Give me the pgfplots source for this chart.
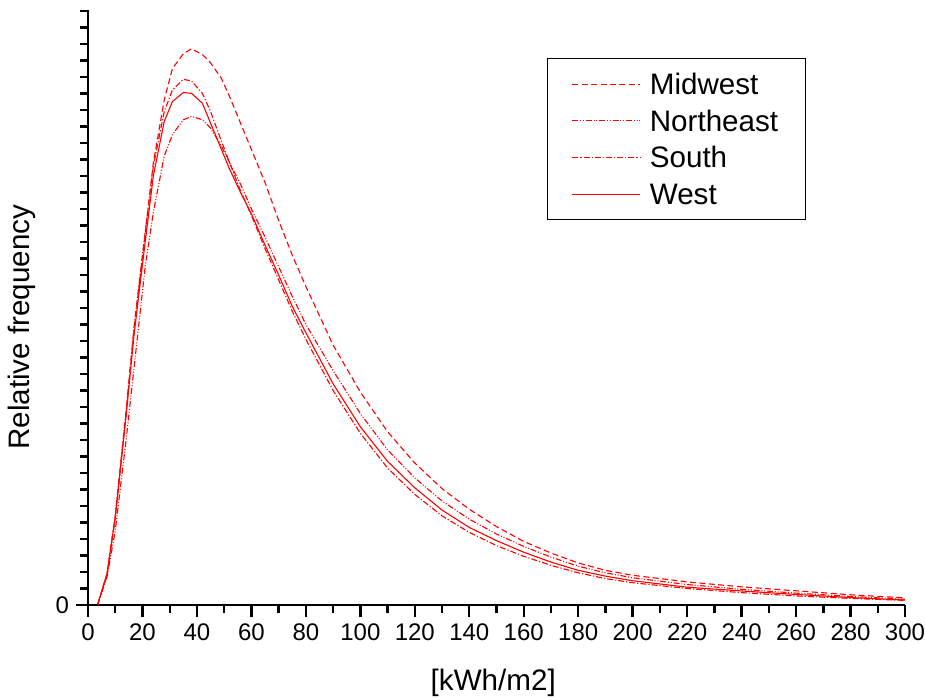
\documentclass[border=0pt]{standalone}
\usepackage{fontspec}
\setmainfont{Liberation Sans}
\usepackage{pgfplots}
\pgfplotsset{compat=1.18}

% x: kWh/m2, y: tick units on the unlabelled frequency axis
\pgfplotstableread{
x     mw     ne     so     we
3.5   0      0      0      0
7     1.9    1.7    1.9    1.9
10    5.3    4.5    5.4    5.3
14    11.6   10.0   11.8   11.5
17    16.8   14.5   17.0   16.5
21    22.5   20.5   22.6   22.0
24    26.8   23.8   26.6   26.0
28    30.6   27.2   29.9   29.3
31    32.5   28.5   31.2   30.5
35    33.4   29.4   31.85  31.05
38    33.7   29.6   31.75  31.0
42    33.35  29.4   31.0   30.4
45    32.85  28.9   29.9   29.2
49    31.9   27.8   28.1   27.6
52    30.8   26.8   26.8   26.4
56    29.2   25.5   25.1   25.0
60    27.6   24.0   23.6   23.7
65    25.6   22.3   21.6   21.8
70    23.3   20.5   19.7   20.0
75    21.2   18.7   17.8   18.1
80    19.3   17.0   16.1   16.5
90    15.75  14.2   13.0   13.4
100   12.9   11.6   10.4   10.8
110   10.5   9.4    8.3    8.7
120   8.6    7.7    6.7    7.1
130   7.05   6.3    5.4    5.75
140   5.8    5.2    4.4    4.7
150   4.75   4.3    3.6    3.9
160   3.85   3.55   2.95   3.2
170   3.15   2.9    2.4    2.6
180   2.55   2.35   1.95   2.1
190   2.1    1.95   1.6    1.75
200   1.8    1.65   1.35   1.47
220   1.4    1.24   1.0    1.08
240   1.1    0.95   0.75   0.85
260   0.86   0.72   0.55   0.64
280   0.62   0.52   0.4    0.45
300   0.43   0.35   0.28   0.3
}\regions

\begin{document}
\begin{tikzpicture}
\path[use as bounding box] (-44pt,-47.5pt) rectangle (418.5pt,302.5pt);
\begin{axis}[
  at={(0pt,0pt)}, anchor=origin,
  scale only axis, width=408.5pt, height=297.5pt,
  xmin=0, xmax=300, ymin=0, ymax=36.05,
  axis x line*=bottom, axis y line*=left,
  axis line style={line width=1.2pt},
  tick align=outside, tick style={line width=1.2pt, black},
  major tick length=6pt, minor tick length=3.8pt,
  xtick={0,20,...,300}, minor xtick={10,30,...,290},
  ytick={0}, minor ytick={1,...,36},
  /pgf/number format/assume math mode=true,
  tick label style={font=\fontsize{12}{14}\selectfont},
  xlabel={[kWh/m2]}, ylabel={Relative frequency},
  label style={font=\fontsize{14.8}{17}\selectfont},
  xlabel style={at={(axis description cs:0.496,-0.131)}, anchor=center},
  ylabel style={at={(axis description cs:-0.081,0.467)}, anchor=center, rotate=0},
  legend cell align=left,
  legend image code/.code={\path (0pt,0pt); \draw[#1] (3pt,0pt) -- (37pt,0pt);},
  legend style={at={(axis description cs:0.562,0.919)}, anchor=north west,
    draw=black, line width=0.6pt, inner xsep=9pt, inner ysep=3.6pt,
    font=\fontsize{14.8}{17}\selectfont,
    nodes={inner xsep=4.5pt, inner ysep=2.4pt, text height=12pt, text depth=1.5pt}},
  every axis plot/.append style={red, line width=0.55pt},
  clip=false,
]
\addplot[dash pattern=on 3pt off 1.7pt] table[x=x,y=mw] {\regions};
\addlegendentry{Midwest}
\addplot[dash pattern=on 3pt off 0.9pt on 0.5pt off 0.9pt on 0.5pt off 0.9pt] table[x=x,y=ne] {\regions};
\addlegendentry{Northeast}
\addplot[dash pattern=on 3pt off 1pt on 0.6pt off 1pt] table[x=x,y=so] {\regions};
\addlegendentry{South}
\addplot[solid] table[x=x,y=we] {\regions};
\addlegendentry{West}
\end{axis}
\end{tikzpicture}
\end{document}
